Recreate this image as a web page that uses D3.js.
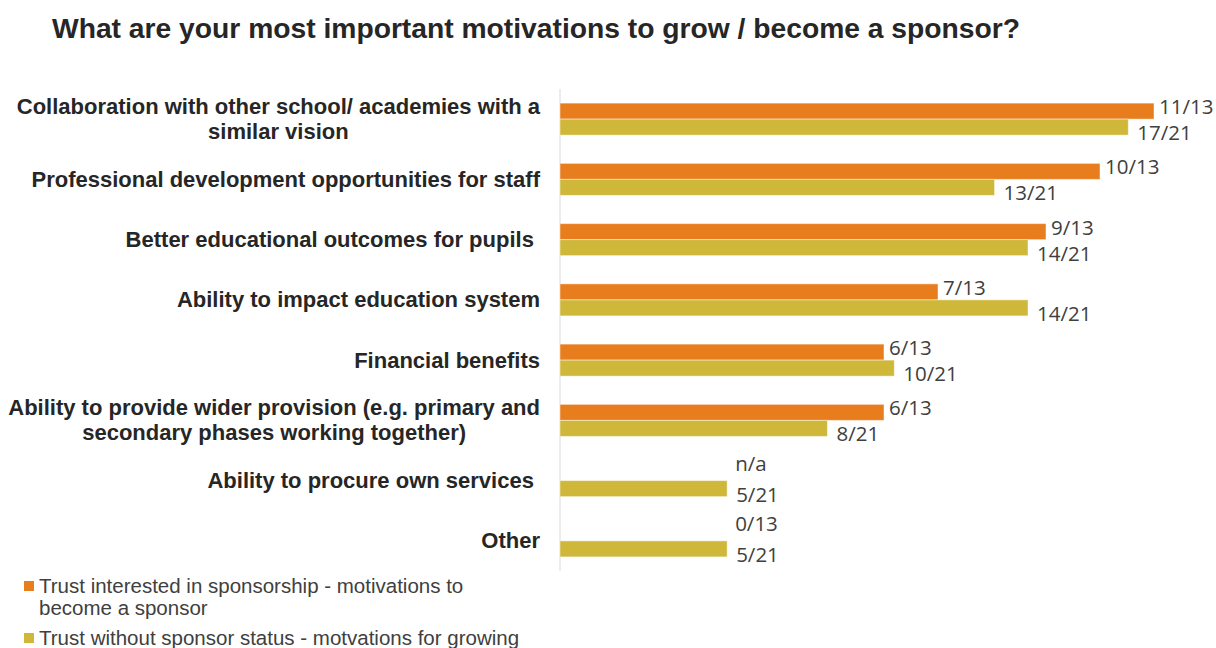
<!DOCTYPE html>
<html>
<head>
<meta charset="utf-8">
<script src="https://cdn.jsdelivr.net/npm/d3@7"></script>
<style>
  html, body { margin: 0; padding: 0; background: #fff; }
  svg { display: block; }
</style>
</head>
<body>
<svg id="chart" width="1216" height="648"></svg>
<script>
// ---- data ----
const title = "What are your most important motivations to grow / become a sponsor?";
const categories = [
  "Collaboration with other school/ academies with a\nsimilar vision",
  "Professional development opportunities for staff",
  "Better educational outcomes for pupils ",
  "Ability to impact education system",
  "Financial benefits",
  "Ability to provide wider provision (e.g. primary and\nsecondary phases working together)",
  "Ability to procure own services ",
  "Other"
];
const seriesNames = [
  "Trust interested in sponsorship - motivations to\nbecome a sponsor",
  "Trust without sponsor status - motvations for growing"
];
const seriesColors = ["#E87D1E", "#CFB73A"];
const sponsorCounts = [11, 10, 9, 7, 6, 6, null, 0];   // out of 13 (null = n/a)
const sponsorTotal = 13;
const growCounts = [17, 13, 14, 14, 10, 8, 5, 5];        // out of 21
const growTotal = 21;

// ---- drawing ----
const svg = d3.select("#chart");
const x = d3.scaleLinear().domain([0, 1]).range([560, 1262]);
const y = d3.scaleBand().domain(categories).range([89, 571]).padding(0);
const sub = d3.scaleBand().domain([0, 1]).range([0, y.bandwidth()]).paddingInner(0).paddingOuter(0.883);

svg.append("text")
  .attr("x", 52).attr("y", 38)
  .attr("font-family", "Liberation Sans, Arial, sans-serif")
  .attr("font-weight", "bold")
  .attr("font-size", 28)
  .attr("textLength", 968)
  .attr("lengthAdjust", "spacingAndGlyphs")
  .attr("fill", "#262626")
  .text(title);

// axis line
svg.append("line")
  .attr("x1", x(0)).attr("x2", x(0))
  .attr("y1", y.range()[0]).attr("y2", y.range()[1])
  .attr("stroke", "#d9d9d9").attr("stroke-width", 1);

const rows = categories.map((c, i) => ({
  cat: c,
  vals: [
    { s: 0, num: sponsorCounts[i], den: sponsorTotal },
    { s: 1, num: growCounts[i], den: growTotal }
  ]
}));

const g = svg.append("g");
rows.forEach(r => {
  r.vals.forEach(v => {
    const val = v.num == null ? 0 : v.num / v.den;
    if (val > 0) {
      g.append("rect")
        .attr("x", x(0))
        .attr("y", y(r.cat) + sub(v.s))
        .attr("width", x(val) - x(0))
        .attr("height", sub.bandwidth())
        .attr("fill", seriesColors[v.s])
        .attr("stroke", "rgba(255,255,255,0.45)")
        .attr("stroke-width", 1);
    }
  });
  // labels
  const o = r.vals[0], w = r.vals[1];
  const oVal = o.num == null ? 0 : o.num / o.den;
  const wVal = w.num / w.den;
  const wCy = y(r.cat) + sub(1) + sub.bandwidth() / 2;
  const oCy = y(r.cat) + sub(0) + sub.bandwidth() / 2;
  const lab = (tx, ty, t) => g.append("text")
    .attr("x", tx).attr("y", ty)
    .attr("dominant-baseline", "central")
    .attr("font-family", "Open Sans, Noto Sans, sans-serif")
    .attr("font-size", 20.5)
    .attr("fill", "#404040")
    .text(t);
  lab(x(wVal) + 9, wCy + 5, w.num + "/" + w.den);
  const oText = o.num == null ? "n/a" : o.num + "/" + o.den;
  if (oVal > 0) lab(x(oVal) + 5, oCy - 5, oText);
  else lab(x(wVal) + 8, wCy - 26, oText);
});

// category labels
const catG = svg.append("g")
  .attr("font-family", "Liberation Sans, Arial, sans-serif")
  .attr("font-weight", "bold")
  .attr("font-size", 22)
  .attr("fill", "#262626");
categories.forEach(c => {
  const lines = c.split("\n");
  const cy = y(c) + y.bandwidth() / 2;
  const lh = 25;
  if (lines.length === 1) {
    catG.append("text").attr("x", 540).attr("y", cy)
      .attr("dominant-baseline", "central")
      .attr("text-anchor", "end")
      .attr("xml:space", "preserve")
      .text(c);
  } else {
    const widths = lines.map(l => {
      const tt = catG.append("text").text(l);
      const wdt = tt.node().getComputedTextLength();
      tt.remove();
      return wdt;
    });
    const cx = 540 - d3.max(widths) / 2;
    lines.forEach((l, k) => {
      catG.append("text").attr("x", cx)
        .attr("y", cy + (k - (lines.length - 1) / 2) * lh)
        .attr("dominant-baseline", "central")
        .attr("text-anchor", "middle")
        .text(l);
    });
  }
});

// legend
const leg = svg.append("g")
  .attr("font-family", "Liberation Sans, Arial, sans-serif")
  .attr("font-size", 20.5)
  .attr("fill", "#404040");
let ly = 593;
seriesNames.forEach((name, i) => {
  const lines = name.split("\n");
  leg.append("rect").attr("x", 24).attr("y", ly - 12).attr("width", 10).attr("height", 10)
    .attr("fill", seriesColors[i]);
  lines.forEach((l, k) => {
    leg.append("text").attr("x", 39).attr("y", ly + k * 22).text(l);
  });
  ly += lines.length * 22 + 8;
});
</script>
</body>
</html>
